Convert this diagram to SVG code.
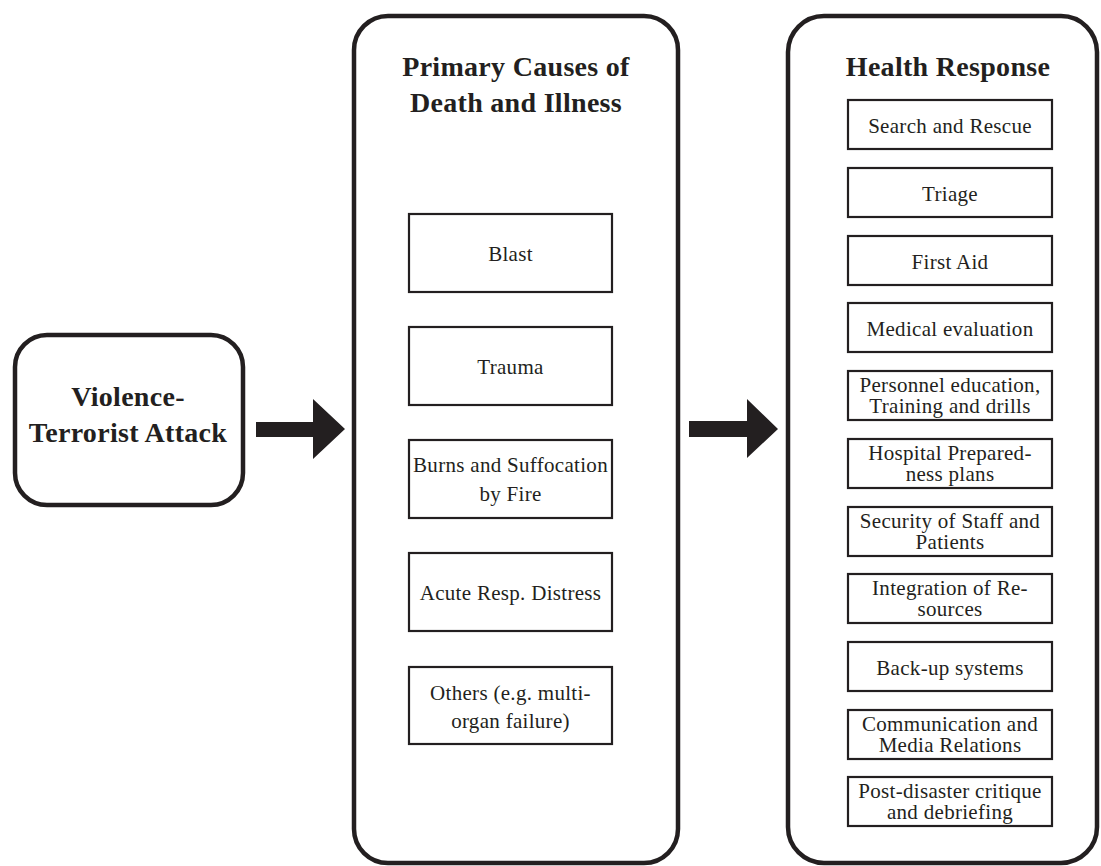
<svg xmlns="http://www.w3.org/2000/svg" width="1101" height="866" viewBox="0 0 1101 866">
<style>
.panel{fill:#fff;stroke:#231f20;stroke-width:4.5}
.box{fill:#fff;stroke:#231f20;stroke-width:2.2}
.t{font-family:"Liberation Serif",serif;font-size:21px;letter-spacing:0.3px;fill:#231f20;text-anchor:middle}
.h{font-family:"Liberation Serif",serif;font-size:28px;letter-spacing:0.3px;font-weight:bold;fill:#231f20;text-anchor:middle}
.arr{fill:#231f20}
</style>
<rect width="1101" height="866" fill="#fff"/>
<g id="attack">
<rect class="panel" x="15" y="335" width="228" height="170" rx="32"/>
<text class="h" x="128" y="406">Violence-</text>
<text class="h" x="128" y="442">Terrorist Attack</text>
</g>
<g id="connectors">
<polygon class="arr" points="256,422 313,422 313,399 345,429 313,459 313,437 256,437"/>
<polygon class="arr" points="689,421 747,421 747,399 778,429 747,458 747,437 689,437"/>
</g>
<g id="causes">
<rect class="panel" x="354" y="16" width="324" height="847" rx="34"/>
<text class="h" x="516" y="76">Primary Causes of</text>
<text class="h" x="516" y="112">Death and Illness</text>
</g>
<g id="blast"><rect class="box" x="409" y="214" width="203" height="78"/><text class="t" x="510.5" y="261">Blast</text></g>
<g id="trauma"><rect class="box" x="409" y="327" width="203" height="78"/><text class="t" x="510.5" y="374">Trauma</text></g>
<g id="burns"><rect class="box" x="409" y="440" width="203" height="78"/><text class="t" x="510.5" y="472">Burns and Suffocation</text><text class="t" x="510.5" y="501">by Fire</text></g>
<g id="acute"><rect class="box" x="409" y="553" width="203" height="78"/><text class="t" x="510.5" y="600">Acute Resp. Distress</text></g>
<g id="others"><rect class="box" x="409" y="667" width="203" height="77"/><text class="t" x="510.5" y="700">Others (e.g. multi-</text><text class="t" x="510.5" y="728">organ failure)</text></g>
<g id="response">
<rect class="panel" x="788" y="16" width="309" height="847" rx="36"/>
<text class="h" x="948" y="76">Health Response</text>
</g>
<g id="r1"><rect class="box" x="848" y="100" width="204" height="49"/><text class="t" x="950" y="133">Search and Rescue</text></g>
<g id="r2"><rect class="box" x="848" y="168" width="204" height="49"/><text class="t" x="950" y="201">Triage</text></g>
<g id="r3"><rect class="box" x="848" y="236" width="204" height="49"/><text class="t" x="950" y="269">First Aid</text></g>
<g id="r4"><rect class="box" x="848" y="303" width="204" height="49"/><text class="t" x="950" y="336">Medical evaluation</text></g>
<g id="r5"><rect class="box" x="848" y="371" width="204" height="49"/><text class="t" x="950" y="392">Personnel education,</text><text class="t" x="950" y="413">Training and drills</text></g>
<g id="r6"><rect class="box" x="848" y="439" width="204" height="49"/><text class="t" x="950" y="460">Hospital Prepared-</text><text class="t" x="950" y="481">ness plans</text></g>
<g id="r7"><rect class="box" x="848" y="507" width="204" height="49"/><text class="t" x="950" y="528">Security of Staff and</text><text class="t" x="950" y="549">Patients</text></g>
<g id="r8"><rect class="box" x="848" y="574" width="204" height="49"/><text class="t" x="950" y="595">Integration of Re-</text><text class="t" x="950" y="616">sources</text></g>
<g id="r9"><rect class="box" x="848" y="642" width="204" height="49"/><text class="t" x="950" y="675">Back-up systems</text></g>
<g id="r10"><rect class="box" x="848" y="710" width="204" height="49"/><text class="t" x="950" y="731">Communication and</text><text class="t" x="950" y="752">Media Relations</text></g>
<g id="r11"><rect class="box" x="848" y="777" width="204" height="49"/><text class="t" x="950" y="798">Post-disaster critique</text><text class="t" x="950" y="819">and debriefing</text></g>
</svg>
